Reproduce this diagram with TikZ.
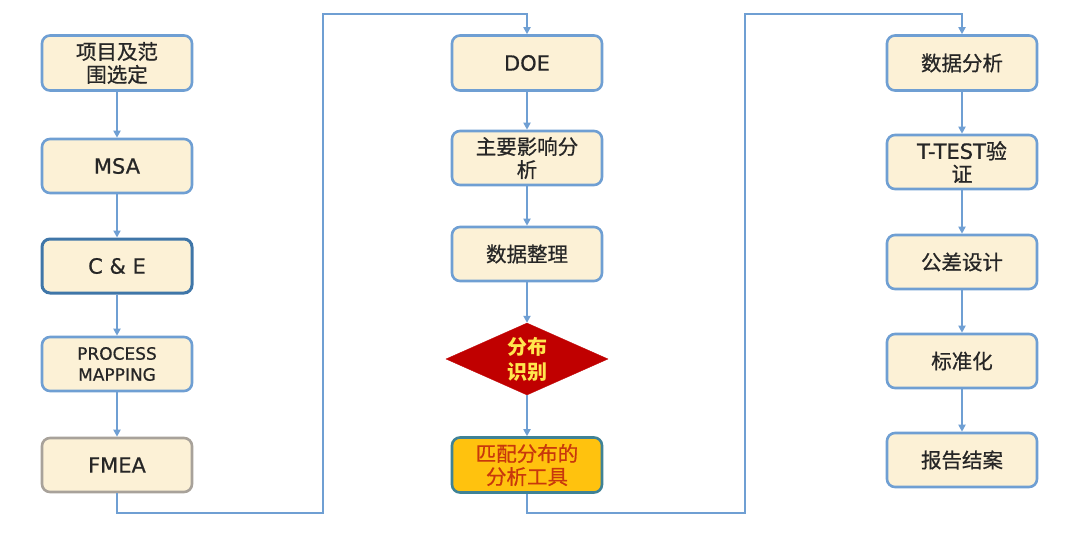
\documentclass[tikz,border=0pt]{standalone}
\usepackage{fontspec}
\setmainfont{DejaVu Sans}[FakeBold=0.7]
\newfontfamily\cjk{Noto Sans CJK SC}[FakeBold=0.7]
\newfontfamily\cjkd{Noto Sans CJK SC}
\usetikzlibrary{shapes.geometric,arrows.meta}
\definecolor{boxfill}{HTML}{FCF1D6}
\definecolor{boxline}{HTML}{6F9FD3}
\definecolor{darkline}{HTML}{3F76A8}
\definecolor{greyline}{HTML}{A8A29A}
\definecolor{connc}{HTML}{6F9FD3}
\definecolor{txt}{HTML}{262626}
\definecolor{orangefill}{HTML}{FFC20E}
\definecolor{tealline}{HTML}{3F8296}
\definecolor{redtxt}{HTML}{C8380C}
\definecolor{dred}{HTML}{C00000}
\definecolor{ytxt}{HTML}{FFE64D}
\begin{document}
\begin{tikzpicture}[x=1pt,y=-1pt,
  box/.style={draw=boxline, line width=2.6pt, fill=boxfill, rounded corners=8pt,
    minimum width=150pt, minimum height=54pt, align=center, text=txt,
    font=\fontsize{21}{23}\selectfont, inner sep=0pt},
  cjkbox/.style={box, font=\cjk\fontsize{20.5}{23}\selectfont},
  conn/.style={draw=connc, line width=2.3pt, line join=miter,
    -{Triangle[length=7pt,width=7pt]}},
]
\fill[white] (0,0) rectangle (1069,533);
\useasboundingbox (0,0) rectangle (1069,533);

% column 1
\node[cjkbox, minimum height=55pt] (a1) at (117,63) {项目及范\\\cjk 围选定};
\node[box] (a2) at (117,166) {MSA};
\node[box, draw=darkline, line width=3pt] (a3) at (117,266) {C \& E};
\node[box, font=\fontsize{17}{21}\selectfont] (a4) at (117,364) {PROCESS\\MAPPING};
\node[box, draw=greyline] (a5) at (117,465) {FMEA};

% column 2
\node[box, minimum height=55pt] (b1) at (527,63) {DOE};
\node[cjkbox] (b2) at (527,158) {主要影响分\\\cjk 析};
\node[cjkbox] (b3) at (527,254) {数据整理};
\node[diamond, aspect=2.25, draw=dred, fill=dred, minimum width=162pt,
  minimum height=72pt, inner sep=0pt, align=center, text=ytxt,
  font=\cjkd\bfseries\fontsize{20}{25}\selectfont] (b4) at (527,359) {分布\\\cjkd\bfseries 识别};
\node[cjkbox, fill=orangefill, draw=tealline, text=redtxt, minimum height=55pt] (b5) at (527,465) {匹配分布的\\\cjk 分析工具};

% column 3
\node[cjkbox, minimum height=55pt] (c1) at (962,63) {数据分析};
\node[box] (c2) at (962,162) {T-TEST{\cjk 验}\\\cjk 证};
\node[cjkbox] (c3) at (962,262) {公差设计};
\node[cjkbox] (c4) at (962,361) {标准化};
\node[cjkbox] (c5) at (962,460) {报告结案};

% vertical connectors
\draw[conn] (a1) -- (a2);
\draw[conn] (a2) -- (a3);
\draw[conn] (a3) -- (a4);
\draw[conn] (a4) -- (a5);
\draw[conn] (b1) -- (b2);
\draw[conn] (b2) -- (b3);
\draw[conn] (b3) -- (b4);
\draw[conn] (b4) -- (b5);
\draw[conn] (c1) -- (c2);
\draw[conn] (c2) -- (c3);
\draw[conn] (c3) -- (c4);
\draw[conn] (c4) -- (c5);

% column links
\coordinate (k1) at (323,513);
\coordinate (k2) at (323,14);
\coordinate (k3) at (745,513);
\coordinate (k4) at (745,14);
\draw[conn] (a5.south) |- (k1) -- (k2) -| (b1.north);
\draw[conn] (b5.south) |- (k3) -- (k4) -| (c1.north);
\end{tikzpicture}
\end{document}
